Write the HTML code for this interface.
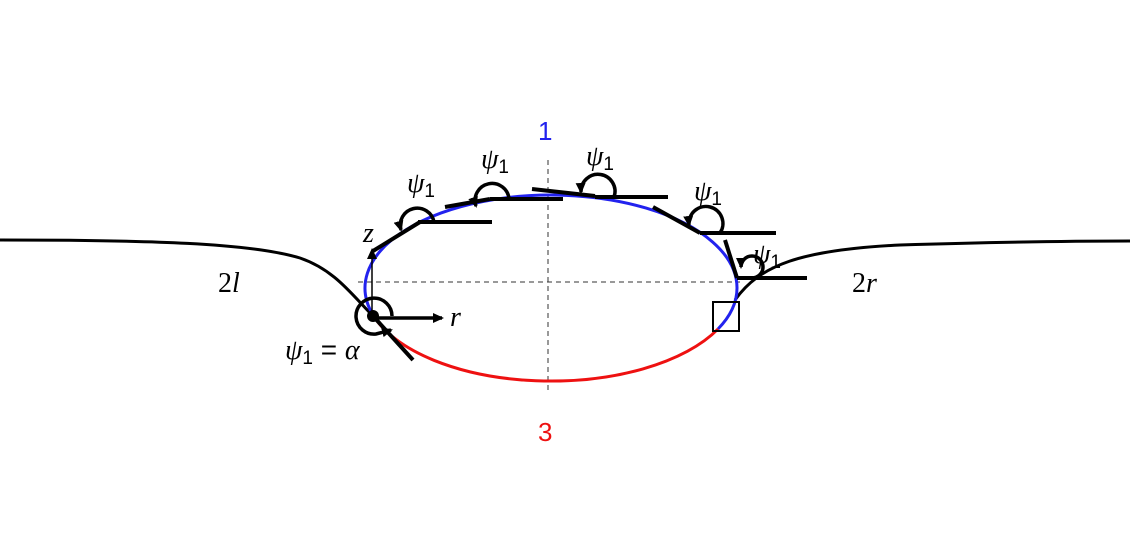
<!DOCTYPE html>
<html><head><meta charset="utf-8"><style>
html,body{margin:0;padding:0;background:#fff;}
svg{display:block;}
.it{font-family:"Liberation Serif",serif;font-style:italic;}
.up{font-family:"Liberation Sans",sans-serif;font-style:normal;}
</style></head><body>
<svg width="1130" height="543" viewBox="0 0 1130 543">
<defs><marker id="ah" markerUnits="userSpaceOnUse" markerWidth="12" markerHeight="12" refX="9" refY="6" orient="auto"><path d="M0,1 L11,6 L0,11 z" fill="#000"/></marker></defs>
<g>
<line x1="358" y1="282" x2="740" y2="282" stroke="#333" stroke-dasharray="5,4" stroke-width="1"/>
<line x1="548" y1="160" x2="548" y2="394" stroke="#333" stroke-dasharray="5,4" stroke-width="1"/>
</g>
<path d="M0,240 C150,240 250,243 300,258 C335,270 352,295 373,316" fill="none" stroke="#000" stroke-width="3"/>
<path d="M735,300 C760,265 800,250 900,245 C1000,242 1080,241 1130,241" fill="none" stroke="#000" stroke-width="3"/>
<path d="M373,315 A186,93 0 1 1 718,329" fill="none" stroke="#2222ee" stroke-width="3"/>
<path d="M373,315 A186,93 0 0 0 718,329" fill="none" stroke="#ee1111" stroke-width="3"/>
<g stroke="#000" stroke-width="4" fill="none">
<line x1="373" y1="251" x2="420" y2="222"/><line x1="418" y1="222" x2="492" y2="222"/>
<line x1="445" y1="207" x2="490" y2="199"/><line x1="490" y1="199" x2="563" y2="199"/>
<line x1="532" y1="189" x2="595" y2="196"/><line x1="595" y1="197" x2="668" y2="197"/>
<line x1="653" y1="207" x2="700" y2="233"/><line x1="700" y1="233" x2="776" y2="233"/>
<line x1="725" y1="240" x2="737" y2="278"/><line x1="737" y1="278" x2="807" y2="278"/>
<line x1="373" y1="316" x2="413" y2="360"/>
</g>
<g stroke="#000" stroke-width="3.5" fill="none">
<path d="M434,222 A17,17 0 1 0 401,230" marker-end="url(#ah)"/>
<path d="M509,199 A17,17 0 1 0 476,206" marker-end="url(#ah)"/>
<path d="M614,197 A17,17 0 1 0 581,192"  marker-end="url(#ah)"/>
<path d="M720,233 A17,17 0 1 0 689,225" marker-end="url(#ah)"/>
<path d="M752,278 A11,11 0 1 0 741,267" marker-end="url(#ah)"/>
<path d="M392,316 A18,18 0 1 0 376,334 L391,330" marker-end="url(#ah)"/>
</g>
<circle cx="373" cy="316" r="6" fill="#000"/>
<line x1="373" y1="318" x2="442" y2="318" stroke="#000" stroke-width="3.5" marker-end="url(#ah)"/>
<line x1="372" y1="315" x2="372" y2="250" stroke="#000" stroke-width="1.5" marker-end="url(#ah)"/>
<rect x="713" y="302" width="26" height="29" fill="none" stroke="#000" stroke-width="2"/>
<g font-size="28" fill="#000" class="it">
<text x="407" y="192">ψ<tspan font-size="19" class="up" dy="5">1</tspan></text>
<text x="481" y="168">ψ<tspan font-size="19" class="up" dy="5">1</tspan></text>
<text x="586" y="165">ψ<tspan font-size="19" class="up" dy="5">1</tspan></text>
<text x="694" y="200">ψ<tspan font-size="19" class="up" dy="5">1</tspan></text>
<text x="753" y="263">ψ<tspan font-size="19" class="up" dy="5">1</tspan></text>
<text x="285" y="359">ψ<tspan font-size="19" class="up" dy="5">1</tspan><tspan dy="-5" class="up"> = </tspan>α</text>
<text x="363" y="242">z</text>
<text x="450" y="326">r</text>
<text x="218" y="292"><tspan class="up" style="font-family:'Liberation Serif',serif">2</tspan>l</text>
<text x="852" y="292"><tspan class="up" style="font-family:'Liberation Serif',serif">2</tspan>r</text>
<text x="538" y="140" class="up" font-size="26" fill="#2222ee">1</text>
<text x="538" y="441" class="up" font-size="26" fill="#ee1111">3</text>
</g>
</svg>
</body></html>
